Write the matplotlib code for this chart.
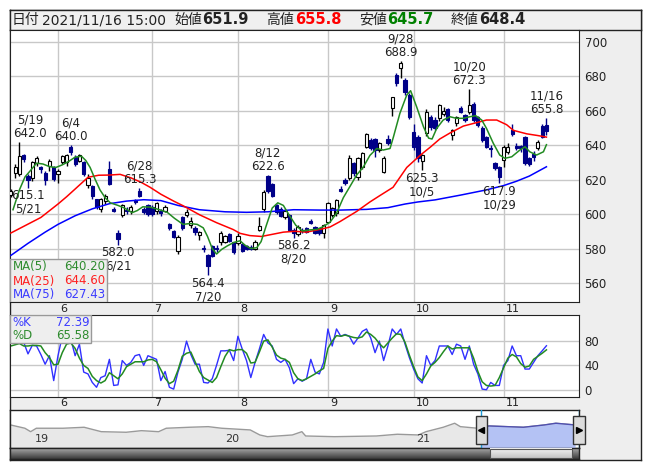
import numpy as np
import matplotlib
matplotlib.use("Agg")
import matplotlib.pyplot as plt
from matplotlib.patches import Rectangle
from matplotlib import transforms

plt.rcParams['font.family'] = ['DejaVu Sans', 'Noto Sans CJK JP']

# ---------------- data (daily, 2021/5/17 .. 2021/11/16) ----------------
opens = [611.0, 624.0, 623.2, 634.0, 622.0, 620.7, 629.6, 627.0, 624.0, 627.6,
         627.0, 623.0, 630.0, 630.0, 639.0, 633.0, 631.0, 630.0, 617.0, 616.5,
         608.7, 603.0, 607.7, 626.0, 603.0, 589.0, 599.5, 602.5, 601.5, 608.0,
         613.5, 603.0, 605.0, 604.0, 602.0, 602.0, 602.0, 594.0, 590.0, 578.7,
         598.0, 599.4, 593.6, 592.0, 587.8, 580.5, 576.0, 581.6, 580.5, 583.6,
         584.0, 588.4, 583.6, 583.2, 582.6, 581.6, 581.0, 580.0, 591.0, 603.0,
         622.2, 617.4, 605.0, 603.0, 598.0, 599.4, 590.7, 588.4, 591.0, 591.7,
         596.0, 592.7, 591.7, 588.8, 595.6, 599.4, 600.4, 614.5, 619.7, 620.7,
         629.4, 621.6, 627.0, 639.0, 643.0, 643.3, 637.0, 624.5, 643.3, 661.3,
         680.6, 684.4, 678.0, 669.0, 647.7, 644.8, 631.0, 646.8, 656.4, 654.5,
         655.5, 658.0, 660.7, 645.8, 652.6, 661.3, 657.4, 659.3, 664.0, 656.4,
         650.0, 644.8, 638.5, 629.4, 627.4, 631.3, 636.0, 649.0, 639.5, 639.5,
         644.8, 632.3, 635.0, 638.0, 651.0, 651.9]
highs = [614.5, 629.0, 642.0, 635.0, 623.0, 631.0, 633.5, 628.0, 625.0, 632.0,
         628.0, 626.0, 634.0, 635.0, 640.0, 634.0, 635.0, 631.0, 623.0, 617.0,
         609.0, 609.5, 611.5, 631.0, 604.0, 591.0, 606.0, 604.0, 605.0, 609.0,
         615.3, 604.0, 606.0, 605.0, 607.0, 603.0, 605.0, 595.0, 591.0, 588.0,
         599.0, 603.0, 598.0, 593.0, 590.0, 582.0, 577.0, 582.0, 582.0, 590.0,
         588.0, 589.0, 584.0, 589.0, 583.0, 582.0, 582.0, 585.0, 598.5, 614.0,
         622.6, 618.0, 606.0, 604.0, 603.0, 600.0, 592.0, 593.5, 592.0, 592.5,
         597.0, 593.0, 592.0, 594.0, 607.0, 604.0, 609.0, 616.0, 621.0, 634.0,
         630.0, 633.0, 636.0, 647.0, 644.0, 644.0, 642.0, 633.5, 646.0, 668.0,
         682.0, 688.9, 679.0, 670.0, 652.0, 646.0, 635.0, 661.0, 657.5, 656.0,
         664.0, 662.0, 661.5, 649.5, 657.0, 662.5, 658.0, 672.3, 665.0, 657.0,
         651.0, 645.5, 640.0, 630.0, 628.0, 640.0, 641.0, 652.0, 641.0, 640.0,
         645.5, 633.0, 636.5, 643.0, 652.0, 655.8]
lows = [610.0, 621.0, 622.0, 630.0, 615.1, 619.0, 628.0, 624.0, 617.0, 625.0,
        619.0, 618.0, 629.0, 628.0, 634.0, 628.0, 630.0, 622.0, 615.0, 609.0,
        603.0, 601.0, 606.0, 617.0, 601.0, 582.0, 598.0, 600.0, 600.0, 606.0,
        610.0, 600.0, 599.0, 599.0, 600.0, 599.0, 601.0, 591.0, 586.0, 577.0,
        591.0, 598.0, 592.0, 588.0, 585.0, 578.0, 564.4, 575.0, 578.0, 582.0,
        583.0, 584.0, 577.0, 582.0, 578.0, 579.0, 579.0, 579.0, 590.0, 601.0,
        612.0, 610.0, 600.0, 598.0, 597.0, 590.0, 586.2, 587.5, 589.0, 589.0,
        594.0, 588.5, 588.0, 585.9, 595.0, 598.0, 599.0, 613.0, 617.0, 620.0,
        622.0, 620.0, 626.0, 638.0, 637.0, 633.0, 636.0, 624.0, 640.0, 657.0,
        674.0, 679.0, 669.0, 655.0, 637.0, 630.0, 625.3, 645.0, 649.0, 648.5,
        654.0, 657.0, 653.5, 643.0, 651.0, 658.5, 653.5, 658.0, 653.5, 650.5,
        642.0, 638.0, 633.0, 625.5, 617.9, 627.5, 635.0, 645.5, 637.0, 636.0,
        628.5, 628.0, 631.0, 637.0, 644.0, 645.7]
closes = [613.5, 627.0, 633.8, 632.0, 620.0, 630.0, 632.7, 626.0, 619.5, 631.0,
          620.5, 625.0, 633.5, 634.0, 635.7, 629.0, 634.0, 623.0, 621.0, 610.6,
          604.0, 608.7, 610.6, 617.4, 602.0, 585.5, 605.0, 601.5, 604.0, 607.0,
          610.6, 601.0, 600.0, 600.0, 606.4, 600.6, 604.0, 592.0, 586.5, 586.5,
          592.0, 601.4, 596.0, 589.4, 589.4, 579.5, 570.0, 575.8, 579.5, 589.0,
          587.0, 584.5, 578.0, 587.4, 578.7, 579.7, 580.0, 584.0, 593.0, 612.6,
          613.5, 610.6, 601.0, 599.0, 602.0, 591.0, 588.8, 592.7, 590.3, 589.8,
          595.0, 589.0, 588.8, 593.6, 606.6, 603.3, 608.0, 613.5, 617.8, 632.3,
          623.6, 632.3, 635.2, 646.2, 638.0, 637.0, 641.0, 632.3, 641.0, 667.6,
          675.7, 687.7, 671.0, 656.4, 639.0, 632.3, 634.2, 659.3, 650.6, 649.7,
          663.0, 660.0, 654.5, 648.7, 656.4, 659.3, 654.5, 663.2, 654.5, 651.6,
          642.9, 639.0, 637.5, 626.5, 621.6, 639.0, 639.0, 646.4, 638.5, 638.5,
          629.4, 629.0, 633.0, 642.0, 644.8, 648.4]

ma5_x = [0.5, 2, 3.3, 4.5, 6, 7.5, 9, 10.5, 12, 13.5, 15, 16.5, 17.5, 18.5, 19.6,
         20.8, 22, 23.2, 25, 26.5, 28.3, 29.5, 30.8, 32.5, 34.3, 36.5, 38.2, 40.2,
         41.8, 43.5, 44.9, 45.9, 47, 48, 49.2, 50.5, 52, 53.5, 54.6, 56, 57.4,
         58.4, 59.7, 61, 62.3, 63.6, 64.8, 66.5, 68, 69.8, 71.4, 72.9, 74.5, 76,
         77.6, 79.1, 80.7, 82.3, 83.8, 85.4, 86.9, 88.5, 89.3, 90.8, 92.4, 93.3,
         94.7, 96.3, 97.5, 98.3, 99.4, 100.9, 102.5, 104, 105.6, 107.1, 108.5,
         109.9, 111, 112.6, 114.1, 115.3, 116.9, 118.8, 120, 121.1, 122.7, 124.3, 125]
ma5_y = [602.5, 614, 621.5, 625, 629.5, 629, 627.5, 627, 628.5, 630.5, 633, 633.5,
         631, 627, 620.5, 614, 609.5, 606.5, 605, 603.5, 600.8, 602, 604.2, 604,
         602.8, 601, 597.5, 594, 594.5, 594, 592, 587, 580, 576.8, 579.5, 581.5,
         583.5, 584.5, 582, 580, 580.5, 584, 594, 603.5, 606.5, 605, 600, 593.5,
         590.2, 590.8, 591.1, 592.7, 595.3, 600.4, 609.5, 615.8, 622.6, 627.4, 634,
         638, 637.1, 638, 644.8, 658.4, 669, 671.5, 662.2, 650.6, 644, 643.5, 649.7,
         654.5, 656.4, 655.5, 655.5, 656.4, 657, 654.5, 649.7, 641, 634.2, 632.3,
         633.2, 637.1, 639, 636.1, 634.2, 636.1, 640.2]

ma25_x = [0, 3.5, 7, 11, 13, 15, 18, 20.5, 23, 25.5, 28, 30.4, 32.5, 35, 38, 40.2,
          44.1, 48, 51.9, 53.5, 55.8, 58.5, 63.6, 66.3, 69, 72.9, 74.5, 76.8, 80.7,
          83.8, 86, 89.2, 92.4, 95.5, 98, 100.1, 102.5, 105.6, 109.5, 111, 113.4,
          115.7, 117.3, 120.4, 123, 125]
ma25_y = [589, 593.5, 598, 605.8, 610, 614.5, 621.3, 622.5, 622.6, 623, 621, 618.4,
          615.5, 611.5, 607.5, 604.8, 599.5, 595, 591, 588.8, 587.5, 587, 589.5, 590,
          589.5, 591.5, 592.5, 595.6, 601.5, 607, 610.5, 615.5, 627, 634, 639, 643.5,
          647, 651, 653.5, 654.5, 654.5, 651.8, 648.5, 646.5, 645.5, 644.6]

ma75_x = [0, 4, 8, 11, 15, 19, 23, 27, 31, 35, 39, 44, 50, 55, 60, 66, 72, 77, 83,
          88, 92, 95, 99, 105, 111, 115, 118, 121, 125]
ma75_y = [576, 583, 589.5, 594, 599, 603, 606, 607.5, 608.3, 607.8, 605, 602.5,
          601.3, 601, 601.3, 602.5, 602.3, 602.3, 602.7, 603.7, 605.8, 607, 608.2,
          611, 614, 616.5, 619, 622, 627.4]

stoch_k = [82, 76, 88, 78, 59, 73, 72, 58, 42, 56, 15, 56, 88, 92, 83, 56, 75, 29,
           26, 12, 4, 20, 23, 50, 7, 8, 48, 40, 45, 56, 58, 40, 56, 53, 50, 15, 30,
           4, 1, 29, 50, 80, 58, 42, 42, 12, 11, 18, 40, 64, 64, 65, 48, 88, 67, 48,
           20, 45, 67, 91, 77, 72, 50, 45, 50, 36, 10, 18, 14, 18, 50, 29, 26, 45,
           100, 72, 100, 88, 91, 88, 75, 85, 96, 100, 85, 61, 80, 48, 72, 100, 91,
           100, 75, 53, 34, 18, 11, 56, 40, 48, 72, 72, 72, 58, 75, 72, 50, 72, 42,
           26, 1, 0, 12, 7, 7, 40, 48, 72, 56, 56, 34, 34, 45, 56, 64, 72.39]
stoch_d = [72, 74, 76, 72, 72, 73, 73, 72, 61, 53, 41, 42, 61, 75, 77, 68, 52, 40,
           35, 22, 15, 11, 15, 28, 23, 18, 26, 38, 42, 46, 46, 46, 49, 50, 46, 33,
           19, 10, 14, 32, 55, 60, 62, 46, 30, 20, 16, 12, 20, 38, 55, 66, 64, 66,
           66, 60, 44, 45, 62, 80, 82, 70, 57, 52, 50, 45, 28, 18, 15, 18, 22, 26,
           31, 35, 68, 80, 89, 88, 90, 88, 86, 85, 87, 95, 91, 85, 76, 69, 77, 85,
           92, 91, 78, 57, 38, 21, 15, 26, 39, 45, 53, 63, 72, 67, 69, 69, 69, 69,
           52, 30, 13, 7, 6, 7, 20, 36, 52, 58, 54, 43, 37, 39, 50, 55, 60, 65.58]

month_idx = [11, 33, 53, 74, 94, 115]
month_labels = ['6', '7', '8', '9', '10', '11']

peak_idx = [2, 14, 30, 60, 91, 107, 125]
peak_dates = ['5/19', '6/4', '6/28', '8/12', '9/28', '10/20', '11/16']
peak_vals = [642.0, 640.0, 615.3, 622.6, 688.9, 672.3, 655.8]
trough_idx = [4, 25, 46, 66, 96, 114]
trough_dates = ['5/21', '6/21', '7/20', '8/20', '10/5', '10/29']
trough_vals = [615.1, 582.0, 564.4, 586.2, 625.3, 617.9]

# long-term overview (navigator)
nav_year = [2018.885, 2018.96, 2018.99, 2019.02, 2019.16, 2019.27, 2019.36, 2019.49,
            2019.57, 2019.66, 2019.70, 2019.82, 2019.92, 2019.99, 2020.14, 2020.19,
            2020.23, 2020.36, 2020.41, 2020.43, 2020.58, 2020.80, 2020.91, 2021.02,
            2021.06, 2021.15, 2021.21, 2021.24, 2021.33, 2021.39, 2021.57, 2021.68,
            2021.74, 2021.84]
nav_price = [637, 546, 451, 546, 546, 573, 451, 435, 479, 451, 546, 573, 590, 546,
             499, 360, 313, 360, 451, 332, 313, 332, 380, 360, 451, 573, 684, 590,
             546, 609, 573, 637, 684, 637]
nav_years = [2019, 2020, 2021]
nav_year_labels = ['19', '20', '21']
sel_start, sel_end = 2021.35, 2021.861

header_items = [('日付', 12), ('2021/11/16 15:00', 42), ('始値', 174), ('651.9', 202),
                ('高値', 266), ('655.8', 295), ('安値', 359), ('645.7', 387),
                ('終値', 451), ('648.4', 479)]

# ---------------- layout ----------------
W, H = 653, 470
fig = plt.figure(figsize=(W / 100, H / 100), dpi=100)
fig.patch.set_facecolor('white')


def add_ax(x0, y0, x1, y1):
    return fig.add_axes([x0 / W, 1 - y1 / H, (x1 - x0) / W, (y1 - y0) / H])


def frame(ax, color='#222222'):
    ax.set_xticks([])
    ax.set_yticks([])
    for s in ax.spines.values():
        s.set_color(color)
        s.set_linewidth(1)


GRID = '#c8c8c8'
NAVY = '#000088'
XL = (-0.2, 132.6)

bg = add_ax(10, 10, 641, 459.5)
bg.set_facecolor('#eeeeee')
frame(bg)

hdr = add_ax(10, 10, 641, 30)
hdr.set_facecolor('#f0f0f0')
frame(hdr)
for s, x in header_items:
    bold = s[0].isdigit() and '.' in s
    color = '#222222'
    if s == '655.8':
        color = '#ff0000'
    elif s == '645.7':
        color = '#008000'
    fig.text(x / W, 1 - 20 / H, s, fontsize=10 if not bold else 10.5,
             fontweight='bold' if bold else 'normal', color=color, va='center')

# ---------------- main price panel ----------------
ax = add_ax(10, 30, 579, 302)
ax.set_xlim(*XL)
ax.set_ylim(549, 706.7)
ax.set_yticks(range(560, 701, 20))
ax.set_xticks([])
ax.yaxis.tick_right()
ax.tick_params(axis='y', length=0, pad=4, labelsize=8.5, colors='#222222')
ax.grid(axis='y', color=GRID, lw=1)
ax.set_axisbelow(True)
for m in month_idx:
    ax.axvline(m, color=GRID, lw=1, zorder=0)
for s in ax.spines.values():
    s.set_color('#222222')

idx = np.arange(len(closes))
o, h, l, c = map(np.array, (opens, highs, lows, closes))
up = c >= o
ax.vlines(idx[up], l[up], h[up], color='black', lw=1, zorder=2)
ax.vlines(idx[~up], l[~up], h[~up], color=NAVY, lw=1, zorder=2)
body = np.maximum(np.abs(c - o), 0.4)
ax.bar(idx[up], body[up], bottom=np.minimum(o, c)[up], width=0.75,
       color='white', edgecolor='black', linewidth=0.8, zorder=3)
ax.bar(idx[~up], body[~up], bottom=np.minimum(o, c)[~up], width=0.75,
       color=NAVY, edgecolor=NAVY, linewidth=0.8, zorder=3)

ax.plot(ma75_x, ma75_y, color='#0000ff', lw=1.1, zorder=4)
ax.plot(ma25_x, ma25_y, color='#ff0000', lw=1.1, zorder=4)
ax.plot(ma5_x, ma5_y, color='#228b22', lw=1.1, zorder=4)

labels = []
for i, d, v in zip(peak_idx, peak_dates, peak_vals):
    labels.append(ax.annotate(f'{d}\n{v:.1f}', (i, v), xytext=(0, 1.5),
                              textcoords='offset points', ha='center', va='bottom',
                              fontsize=8.5, color='#222222', linespacing=1.05, zorder=6))
for i, d, v in zip(trough_idx, trough_dates, trough_vals):
    labels.append(ax.annotate(f'{v:.1f}\n{d}', (i, v), xytext=(0, -1),
                              textcoords='offset points', ha='center', va='top',
                              fontsize=8.5, color='#222222', linespacing=1.05, zorder=6))

# legend box
ax.add_patch(Rectangle((0, 0), 97 / 569, 43 / 272, transform=ax.transAxes,
                       facecolor='#eeeeee', edgecolor='#999999', lw=1, zorder=7))
for name, val, col, yc in [('MA(5)', '640.20', '#2e8b2e', 266.5),
                           ('MA(25)', '644.60', '#ff2020', 281),
                           ('MA(75)', '627.43', '#3c3cff', 294.5)]:
    ya = (302 - yc) / 272
    ax.text(2.5 / 569, ya, name, transform=ax.transAxes, color=col, fontsize=8.5,
            va='center', ha='left', zorder=8)
    ax.text(95.5 / 569, ya, val, transform=ax.transAxes, color=col, fontsize=8.5,
            va='center', ha='right', zorder=8)

# month labels in the two strips
blend = transforms.blended_transform_factory(ax.transData, fig.transFigure)
for m, lab in zip(month_idx, month_labels):
    for yc in (308.5, 403.5):
        fig.text(0, 0, '')
        ax.text(m + 0.5, 1 - yc / H, lab, transform=blend, fontsize=8,
                color='#222222', ha='left', va='center', clip_on=False)

# ---------------- stochastics ----------------
st = add_ax(10, 315, 579, 397)
st.set_xlim(*XL)
st.set_ylim(-12, 123)
st.set_yticks([0, 40, 80])
st.set_xticks([])
st.yaxis.tick_right()
st.tick_params(axis='y', length=0, pad=4, labelsize=8.5, colors='#222222')
st.grid(axis='y', color=GRID, lw=1)
st.set_axisbelow(True)
for m in month_idx:
    st.axvline(m, color=GRID, lw=1, zorder=0)
for s in st.spines.values():
    s.set_color('#222222')
st.plot(idx, stoch_k, color='#3030ff', lw=1)
st.plot(idx, stoch_d, color='#228b22', lw=1.1)
st.add_patch(Rectangle((0, 1 - 28 / 82), 81 / 569, 28 / 82, transform=st.transAxes,
                       facecolor='#eeeeee', edgecolor='#999999', lw=1, zorder=7))
for name, val, col, yc in [('%K', '72.39', '#3c3cff', 323), ('%D', '65.58', '#2e8b2e', 335.5)]:
    ya = (397 - yc) / 82
    st.text(2.5 / 569, ya, name, transform=st.transAxes, color=col, fontsize=8.5,
            va='center', ha='left', zorder=8)
    st.text(79.5 / 569, ya, val, transform=st.transAxes, color=col, fontsize=8.5,
            va='center', ha='right', zorder=8)

# ---------------- navigator ----------------
nav = add_ax(10, 410, 579, 448)
nav.set_xlim(2018.882, 2021.861)
nav.set_ylim(0, 1050)
frame(nav)
nav.set_facecolor('white')
nav.fill_between(nav_year, nav_price, 0, color='#e8e8e8', lw=0)
nav.plot(nav_year, nav_price, color='#9a9a9a', lw=1)
clip = Rectangle((sel_start, 0), sel_end - sel_start, 1050, transform=nav.transData)
f = nav.fill_between(nav_year, nav_price, 0, color='#b4c2f4', lw=0, zorder=3)
f.set_clip_path(clip)
ln, = nav.plot(nav_year, nav_price, color='#5050b0', lw=1, zorder=4)
ln.set_clip_path(clip)
for yr, lab in zip(nav_years, nav_year_labels):
    nav.text(yr + 0.01, 0.25, lab, transform=transforms.blended_transform_factory(
        nav.transData, nav.transAxes), fontsize=8, color='#333333', va='center')
for xs in (sel_start, sel_end):
    nav.axvline(xs, color='#1e9bd7', lw=1, zorder=5)
hb = transforms.blended_transform_factory(nav.transData, nav.transAxes)
hw = 11 / 191
for xs, mk in ((sel_start, '<'), (sel_end, '>')):
    nav.add_patch(Rectangle((xs - hw / 2, 0.1), hw, 0.74, transform=hb,
                            facecolor='#dcdcdc', edgecolor='#333333', lw=1, zorder=6,
                            clip_on=False))
    nav.plot([xs], [0.47], marker=mk, color='black', ms=4, transform=hb, zorder=7,
             clip_on=False)

# ---------------- scrollbar ----------------
sc = add_ax(10, 448, 579, 459)
sc.set_xlim(0, 1)
sc.set_ylim(0, 1)
frame(sc)
grad = np.linspace(0, 1, 32).reshape(-1, 1)
sc.imshow(grad, extent=(0, 1, 0, 1), cmap=matplotlib.colors.LinearSegmentedColormap
          .from_list('g', ['#a8a8a8', '#3a3a3a']), aspect='auto', origin='upper')
sc.imshow(grad, extent=(480 / 569, 562 / 569, 0.05, 0.95),
          cmap=matplotlib.colors.LinearSegmentedColormap.from_list('t', ['#f4f4f4', '#c4c4c4']),
          aspect='auto', origin='upper', zorder=3)
sc.add_patch(Rectangle((480 / 569, 0.05), 82 / 569, 0.9, facecolor='none',
                       edgecolor='#555555', lw=0.8, zorder=4))
sc.set_xlim(0, 1)
sc.set_ylim(0, 1)

# keep peak/trough labels inside the price panel
fig.canvas.draw()
r = fig.canvas.get_renderer()
abox = ax.get_window_extent(r)
for t in labels:
    bb = t.get_window_extent(r)
    if bb.x0 < abox.x0 + 0.5:
        t.set_position((abox.x0 + 0.5 - bb.x0, t.get_position()[1]))

fig.savefig('out.png', dpi=100)
